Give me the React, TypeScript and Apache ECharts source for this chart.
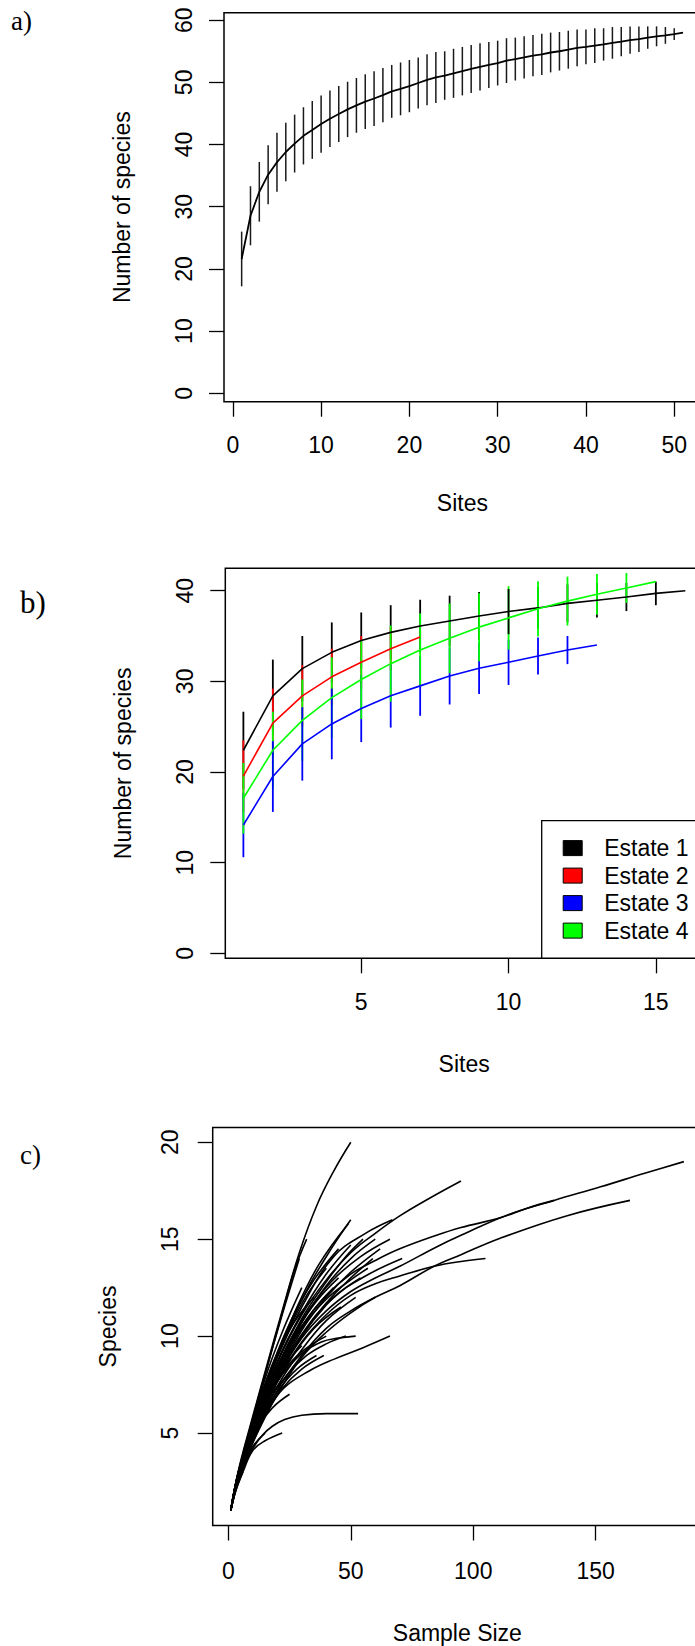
import React, { useEffect, useRef } from "react";
import * as echarts from "echarts";

// ---------- Panel a: species accumulation (all sites) ----------
const SITES_A = [1, 2, 3, 4, 5, 6, 7, 8, 9, 10, 11, 12, 13, 14, 15, 16, 17, 18, 19, 20, 21, 22, 23, 24, 25, 26, 27, 28, 29, 30, 31, 32, 33, 34, 35, 36, 37, 38, 39, 40, 41, 42, 43, 44, 45, 46, 47, 48, 49, 50, 51];
const MEAN_A = [21.6, 28.55, 32.4, 35.15, 37.15, 38.8, 40.15, 41.4, 42.35, 43.3, 44.15, 44.9, 45.65, 46.3, 46.9, 47.4, 47.95, 48.55, 48.95, 49.4, 49.9, 50.4, 50.8, 51.1, 51.45, 51.8, 52.15, 52.5, 52.8, 53.1, 53.5, 53.75, 54.0, 54.3, 54.5, 54.8, 55.0, 55.25, 55.55, 55.7, 55.9, 56.1, 56.35, 56.55, 56.8, 56.95, 57.2, 57.4, 57.55, 57.75, 58.0];
const SD_A = [4.4, 4.75, 4.8, 4.75, 4.75, 4.7, 4.65, 4.6, 4.65, 4.6, 4.55, 4.5, 4.45, 4.4, 4.4, 4.4, 4.35, 4.25, 4.25, 4.2, 4.1, 4.1, 4.1, 3.9, 3.95, 3.9, 3.85, 3.8, 3.7, 3.6, 3.6, 3.45, 3.4, 3.3, 3.3, 3.2, 3.1, 3.05, 2.95, 2.8, 2.8, 2.6, 2.55, 2.35, 2.2, 2.05, 1.8, 1.6, 1.35, 0.95, 0];
const X_TICKS_A = [0, 10, 20, 30, 40, 50];
const Y_TICKS_A = [0, 10, 20, 30, 40, 50, 60];

// ---------- Panel b: accumulation per estate ----------
const SITES_B = [1, 2, 3, 4, 5, 6, 7, 8, 9, 10, 11, 12, 13, 14, 15, 16];
const ESTATE_NAMES = ["Estate 1", "Estate 2", "Estate 3", "Estate 4"];
const ESTATE_COLORS = ["#000000", "#FF0000", "#0000FF", "#00FF00"];
const E1_MEAN = [22.4, 28.4, 31.4, 33.2, 34.5, 35.4, 36.1, 36.65, 37.2, 37.7, 38.1, 38.6, 38.95, 39.3, 39.7, 40.0];
const E1_SD = [4.25, 4.0, 3.6, 3.3, 3.1, 3.0, 2.9, 2.8, 2.65, 2.5, 2.3, 2.1, 1.9, 1.55, 1.3, 0];
const E2_MEAN = [19.55, 25.4, 28.4, 30.5, 32.1, 33.6, 34.9];
const E2_SD = [3.95, 3.8, 3.4, 3.1, 2.9, 2.4, 0];
const E3_MEAN = [14.15, 19.5, 23.1, 25.3, 27.0, 28.4, 29.5, 30.6, 31.45, 32.1, 32.8, 33.45, 34.0];
const E3_SD = [3.55, 3.9, 4.05, 3.9, 3.7, 3.5, 3.3, 3.15, 2.85, 2.5, 2.05, 1.55, 0];
const E4_MEAN = [17.1, 22.4, 25.7, 28.2, 30.2, 31.95, 33.45, 34.75, 35.98, 37.0, 38.0, 38.85, 39.6, 40.3, 41.0];
const E4_SD = [3.9, 4.25, 4.5, 4.45, 4.35, 4.2, 4.05, 3.85, 3.75, 3.5, 3.05, 2.7, 2.25, 1.65, 0];
const X_TICKS_B = [5, 10, 15];
const Y_TICKS_B = [0, 10, 20, 30, 40];
// which estate's bar is drawn on top at a site (drawing order)
const BAR_ORDER_B: Record<number, number[]> = { 2: [0, 1, 3, 2], 3: [0, 1, 3, 2], 4: [0, 1, 3, 2], 10: [2, 3, 1, 0] };

// ---------- Panel c: rarefaction curves ----------
const CURVES_C: number[][][] = [
  [[1, 1], [4, 3], [9, 5.4], [16, 8.6], [22, 11.3], [29, 14.3], [36, 16.7], [43, 18.5], [50, 20]],
  [[1, 1], [4, 2.9], [9, 5.3], [16, 8.5], [22, 11.2], [27, 13.4], [32, 15]],
  [[1, 1], [4, 2.9], [9, 5.2], [15, 8], [22, 11.1], [29, 14]],
  [[1, 1], [4, 2.8], [9, 4.9], [16, 7.6], [25, 10.5], [33, 12.6], [42, 14.5], [50, 16]],
  [[1, 1], [4, 2.9], [10, 5.3], [18, 8.4], [27, 11.2], [37, 13.7], [49, 15.8]],
  [[1, 1], [4, 2.9], [10, 5.4], [20, 8.9], [30, 11.5], [43, 14.1], [56, 15.3], [67, 16]],
  [[1, 1], [4, 2.8], [10, 5.1], [20, 8.4], [30, 10.8], [42, 12.8], [54, 14.1], [66, 15]],
  [[1, 1], [4, 2.8], [10, 5.1], [20, 8.3], [30, 10.7], [40, 12.6], [50, 14], [60, 15]],
  [[1, 1], [4, 2.7], [10, 4.9], [20, 8], [30, 10.1], [42, 11.9], [56, 13.1], [71, 14]],
  [[1, 1], [4, 2.7], [10, 4.9], [20, 7.9], [30, 10], [40, 11.7], [50, 13], [59, 14]],
  [[1, 1], [4, 2.6], [10, 4.6], [20, 7.2], [30, 9], [40, 10.4], [50, 11.3], [60, 12]],
  [[1, 1], [4, 2.6], [10, 4.7], [20, 7.4], [30, 9.3], [40, 10.8], [52, 12]],
  [[1, 1], [4, 2.6], [9, 4.6], [15, 6.5], [22, 8], [30, 9.1], [38, 9.7], [45, 9.9], [52, 10]],
  [[1, 1], [4, 2.5], [10, 4.5], [16, 6.1], [22.5, 7.3], [33, 8.2], [43, 8.8], [55, 9.4], [66, 10]],
  [[1, 1], [3, 2.1], [6, 3.2], [10, 4.2], [14, 4.9], [18, 5.35], [23, 5.7], [30, 5.92], [40, 6], [53, 6]],
  [[1, 1], [3, 2], [6, 3], [10, 4.1], [15, 4.6], [22, 5]],
  [[1, 1], [3, 2.1], [6, 3.2], [10, 4.3], [15, 5]],
  [[1, 1], [3, 2.2], [7, 3.9], [12, 5.3], [18, 6.3], [25, 7]],
  [[1, 1], [3, 2], [6, 3]],
  [[1, 1], [4, 2.6], [9, 4.4], [15, 6], [22, 7.3], [30, 8.3], [39, 9]],
  [[1, 1], [4, 2.8], [10, 5.3], [20, 8.6], [30, 11.1], [40, 12.9], [50, 14.3], [60, 15.3], [70, 16.2], [82, 17.1], [95, 18]],
  [[1, 1], [4, 2.7], [10, 4.9], [20, 7.8], [30, 9.9], [40, 11.3], [50, 12.3], [60, 13], [70, 13.6], [85, 14.6], [95, 15.2], [114, 16.25], [133, 17], [152, 17.7], [170, 18.4], [186, 19]],
  [[1, 1], [4, 2.8], [10, 5], [20, 8.2], [30, 10.5], [40, 12.1], [50, 13.2], [60, 13.9], [70, 14.5], [85, 15.2], [95, 15.6], [111, 16.1], [122, 16.6], [133, 17]],
  [[1, 1], [4, 2.6], [10, 4.5], [20, 7], [30, 8.9], [40, 10.2], [50, 11.2], [60, 12], [70, 12.6], [84, 13.6], [95, 14.2], [111, 15.05], [138, 16.2], [164, 17]],
  [[1, 1], [4, 2.7], [10, 4.8], [20, 7.7], [30, 9.7], [40, 11.1], [50, 12.1], [60, 12.7], [70, 13.1], [84, 13.6], [95, 13.85], [105, 14]],
  [[1, 1], [4, 2.8], [10, 5.1], [20, 8.4], [30, 10.9], [40, 12.8], [48, 14.1], [55, 15]],
  [[1, 1], [4, 2.7], [10, 4.9], [20, 7.9], [30, 10], [40, 11.6], [47, 12.4], [54, 13]],
  [[1, 1], [4, 2.8], [10, 5.1], [20, 8.3], [28, 10.3], [36, 11.8], [45, 13]],
  [[1, 1], [4, 2.7], [10, 4.9], [18, 7.5], [26, 9.6], [34, 11.2], [43, 12.5]],
  [[1, 1], [4, 2.8], [9, 4.8], [15, 7], [21, 8.7], [27, 10], [33, 11]],
  [[1, 1], [4, 2.6], [9, 4.4], [15, 6.1], [21, 7.3], [28, 8.3], [36, 9]],
  [[1, 1], [4, 2.6], [9, 4.5], [16, 6.5], [24, 8], [32, 9], [40, 9.6], [48, 10]],
  [[1, 1], [4, 2.7], [9, 4.7], [15, 6.6], [22, 8.1], [30, 9.2], [40, 10]],
  [[1, 1], [3, 2.3], [7, 4.2], [12, 5.8], [18, 7.1], [25, 8]],
  [[1, 1], [4, 2.8], [10, 5], [20, 8.2], [30, 10.4], [40, 11.9], [50, 12.9], [57, 13.5]],
  [[1, 1], [4, 2.7], [10, 4.9], [20, 8], [30, 10.3], [40, 12], [50, 13.3], [62, 14.5]],
  [[1, 1], [4, 2.9], [10, 5.4], [18, 8.5], [26, 10.9], [35, 12.9], [45, 14.5]],
  [[1, 1], [4, 2.9], [9, 5.1], [15, 7.8], [22, 10.2], [30, 12.5]],
  [[1, 1], [4, 2.9], [9, 5.2], [14, 7.2], [20, 9]],
  [[1, 1], [4, 2.9], [8, 4.6], [12, 6]],
  [[1, 1], [3, 2.1], [5, 3], [8, 4]],
  [[1, 1], [4, 2.9], [10, 5.3], [18, 8.3], [25, 10.4], [32, 12.1], [40, 13.5]],
  [[1, 1], [4, 2.8], [9, 5], [16, 7.9], [23, 9.9], [29, 11.1], [35, 12]],
  [[1, 1], [4, 2.9], [10, 5.3], [20, 8.7], [30, 11.2], [40, 13.2], [50, 14.7]],
  [[1, 1], [4, 2.7], [8, 4.4], [14, 6.4], [20, 7.9], [25, 8.8], [30, 9.5]],
  [[1, 1], [4, 2.6], [9, 4.5], [16, 6.6], [24, 8.5], [35, 10.4], [46, 11.5]],
];
const X_TICKS_C = [0, 50, 100, 150];
const Y_TICKS_C = [5, 10, 15, 20];

const FONT = "'Liberation Sans', Arial, Helvetica, sans-serif";
const SERIF = "'Liberation Serif', 'Times New Roman', serif";

function labelStyle(extra: any) {
  return { fontSize: 23, fontFamily: FONT, color: "#000", ...extra };
}

function xAxis(grid: number, min: number, max: number, ticks: number[], name: string, nameGap: number, margin: number) {
  return {
    gridIndex: grid, type: "value", min, max,
    axisLine: { show: false, onZero: false },
    splitLine: { show: false },
    axisTick: { show: true, length: 15, customValues: ticks, lineStyle: { color: "#000", width: 1.3 } },
    axisLabel: labelStyle({ customValues: ticks, margin }),
    name, nameLocation: "middle", nameGap,
    nameTextStyle: { fontSize: 23, fontFamily: FONT, color: "#000" },
  };
}

function yAxis(grid: number, min: number, max: number, ticks: number[], name: string, nameGap: number, margin: number) {
  return {
    gridIndex: grid, type: "value", min, max,
    axisLine: { show: false, onZero: false },
    splitLine: { show: false },
    axisTick: { show: true, length: 15, customValues: ticks, lineStyle: { color: "#000", width: 1.3 } },
    axisLabel: labelStyle({ customValues: ticks, margin, rotate: 90 }),
    name, nameLocation: "middle", nameGap, nameRotate: 90,
    nameTextStyle: { fontSize: 23, fontFamily: FONT, color: "#000" },
  };
}

function barRender(colorOf: (api: any) => string, width: number) {
  return (params: any, api: any) => {
    const x = api.value(0);
    const p1 = api.coord([x, api.value(1)]);
    const p2 = api.coord([x, api.value(2)]);
    return {
      type: "line",
      shape: { x1: p1[0], y1: p1[1], x2: p2[0], y2: p2[1] },
      style: { stroke: colorOf(api), lineWidth: width },
    };
  };
}

function buildOption() {
  const estates = [
    { mean: E1_MEAN, sd: E1_SD },
    { mean: E2_MEAN, sd: E2_SD },
    { mean: E3_MEAN, sd: E3_SD },
    { mean: E4_MEAN, sd: E4_SD },
  ];
  const barsB: number[][] = [];
  SITES_B.forEach((site, i) => {
    const order = BAR_ORDER_B[site] || [0, 1, 2, 3];
    order.forEach((e) => {
      const est = estates[e];
      if (i < est.mean.length) barsB.push([site, est.mean[i] - est.sd[i], est.mean[i] + est.sd[i], e]);
    });
  });

  const gridBase = { show: true, borderColor: "#000", borderWidth: 1.5, backgroundColor: "transparent", containLabel: false, outerBoundsMode: "none" };

  const series: any[] = [
    {
      type: "custom", xAxisIndex: 0, yAxisIndex: 0, z: 2,
      data: SITES_A.map((s, i) => [s, MEAN_A[i] - SD_A[i], MEAN_A[i] + SD_A[i]]),
      encode: { x: 0, y: [1, 2] },
      renderItem: barRender(() => "#1a1a1a", 1.5),
    },
    {
      type: "line", xAxisIndex: 0, yAxisIndex: 0, z: 3,
      data: SITES_A.map((s, i) => [s, MEAN_A[i]]),
      symbol: "none", lineStyle: { color: "#000", width: 1.8 },
    },
    {
      type: "custom", xAxisIndex: 1, yAxisIndex: 1, z: 2,
      data: barsB,
      encode: { x: 0, y: [1, 2] },
      renderItem: barRender((api) => ESTATE_COLORS[api.value(3)], 1.8),
    },
  ];
  estates.forEach((est, e) => {
    series.push({
      type: "line", name: ESTATE_NAMES[e], xAxisIndex: 1, yAxisIndex: 1, z: 3,
      data: est.mean.map((m, i) => [SITES_B[i], m]),
      symbol: "none", color: ESTATE_COLORS[e],
      itemStyle: { color: ESTATE_COLORS[e] },
      lineStyle: { color: ESTATE_COLORS[e], width: 1.6 },
    });
  });
  CURVES_C.forEach((c) => {
    series.push({
      type: "line", xAxisIndex: 2, yAxisIndex: 2, z: 3,
      data: c, symbol: "none", smooth: 0.4,
      lineStyle: { color: "#000", width: 1.6 },
    });
  });

  return {
    animation: false,
    backgroundColor: "#fff",
    grid: [
      { ...gridBase, left: 224, top: 12.7, width: 476.7, height: 389 },
      { ...gridBase, left: 225.3, top: 568.3, width: 477.7, height: 390 },
      { ...gridBase, left: 212.7, top: 1127.5, width: 489.3, height: 398 },
    ],
    xAxis: [
      xAxis(0, -1, 53, X_TICKS_A, "Sites", 90, 32),
      xAxis(1, 0.386, 16.6, X_TICKS_B, "Sites", 94, 32),
      xAxis(2, -6.37, 193.4, X_TICKS_C, "Sample Size", 96, 34),
    ],
    yAxis: [
      yAxis(0, -1.35, 61.2, Y_TICKS_A, "Number of species", 91, 29),
      yAxis(1, -0.55, 42.47, Y_TICKS_B, "Number of species", 91, 29),
      yAxis(2, 0.23, 20.76, Y_TICKS_C, "Species", 93, 31),
    ],
    legend: {
      show: true, orient: "vertical", left: 541.7, top: 820.6,
      padding: [16, 14, 16, 21], itemGap: 4.5, itemWidth: 19, itemHeight: 15,
      icon: "rect", borderColor: "#000", borderWidth: 1.3, backgroundColor: "#fff",
      selectedMode: false,
      itemStyle: { borderColor: "#000", borderWidth: 1 },
      textStyle: { fontSize: 23, fontFamily: FONT, color: "#000", padding: [0, 0, 0, 17] },
      data: ESTATE_NAMES,
    },
    graphic: [
      { type: "text", left: 11, top: 7, style: { text: "a)", font: `27px ${SERIF}`, fill: "#000" } },
      { type: "text", left: 20, top: 587, style: { text: "b)", font: `31px ${SERIF}`, fill: "#000" } },
      { type: "text", left: 20, top: 1141, style: { text: "c)", font: `27px ${SERIF}`, fill: "#000" } },
    ],
    series,
  };
}

export default function App() {
  const ref = useRef<HTMLDivElement>(null);
  useEffect(() => {
    if (!ref.current) return;
    const chart = echarts.init(ref.current, null, { renderer: "svg" });
    chart.setOption(buildOption() as any);
    return () => chart.dispose();
  }, []);
  return (
    <div
      ref={ref}
      style={{ position: "absolute", left: 0, top: 0, width: 695, height: 1646, background: "#fff" }}
    />
  );
}
